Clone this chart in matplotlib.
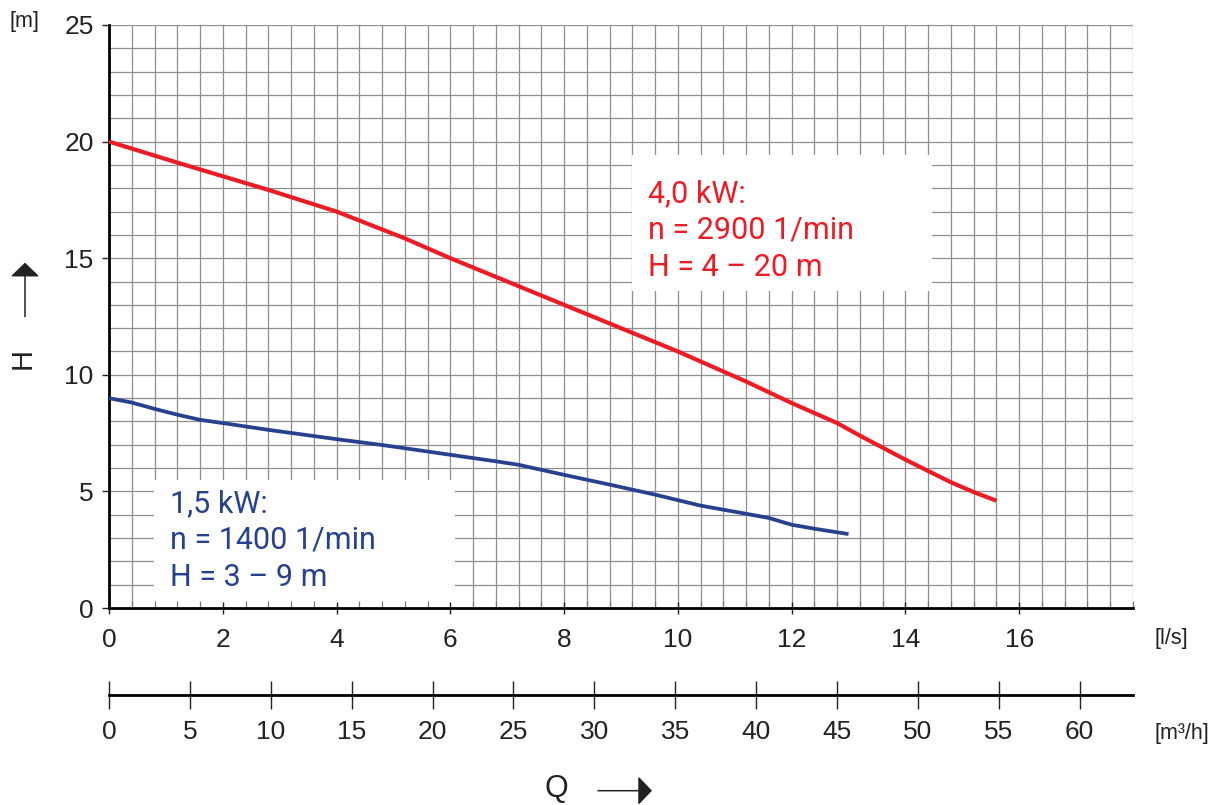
import numpy as np
import matplotlib
matplotlib.use('Agg')
import matplotlib.pyplot as plt
from matplotlib.patches import Rectangle, FancyArrowPatch, ArrowStyle

plt.rcParams['font.family'] = ['Liberation Sans', 'DejaVu Sans']

# pump curves, flow Q in l/s, head H in m
q_red = [0, 1.2, 2.8, 4.0, 5.2, 6.0, 8.0, 10.0, 11.2, 12.0, 12.8, 13.2, 14.0, 14.8, 15.2, 15.6]
h_red = [20.0, 19.1, 17.93, 17.0, 15.85, 15.0, 13.0, 11.0, 9.71, 8.79, 7.93, 7.39, 6.36, 5.39, 4.97, 4.6]

q_blue = [0, 0.4, 0.8, 1.2, 1.6, 2.0, 2.8, 4.0, 4.8, 6.0, 6.8, 7.2, 8.0, 8.8, 9.6,
          10.4, 11.2, 11.6, 12.0, 12.4, 13.0]
h_blue = [9.0, 8.81, 8.54, 8.29, 8.07, 7.93, 7.64, 7.24, 6.99, 6.57, 6.29, 6.14, 5.71, 5.29, 4.86,
          4.39, 4.04, 3.86, 3.57, 3.40, 3.17]

label_red = ['4,0 kW:', 'n = 2900 1/min', 'H = 4 – 20 m']
label_blue = ['1,5 kW:', 'n = 1400 1/min', 'H = 3 – 9 m']

ls_ticks = [0, 2, 4, 6, 8, 10, 12, 14, 16]
m3h_ticks = [0, 5, 10, 15, 20, 25, 30, 35, 40, 45, 50, 55, 60]
h_ticks = [0, 5, 10, 15, 20, 25]

RED = '#ED1C24'
BLUE = '#27408F'
GRID = '#8f8f8f'
INK = '#222222'

W, H = 1219, 805
fig = plt.figure(figsize=(W / 100, H / 100), dpi=100)


def fx(px):
    return px / W


def fy(py):
    return 1 - py / H


# main chart
ax = fig.add_axes([fx(109), fy(608), fx(1133) - fx(109), fy(25) - fy(608)])
ax.set_xlim(0, 18)
ax.set_ylim(0, 25)

# millimetre-paper grid
ax.vlines(np.arange(0.4, 18.01, 0.4), 0, 25, color=GRID, lw=0.9, zorder=0.5)
ax.hlines(np.arange(1, 25.01, 1), 0, 18, color=GRID, lw=0.9, zorder=0.5)

# white boxes behind the labels
ax.add_patch(Rectangle((9.19, 13.59), 14.46 - 9.19, 19.43 - 13.59, fc='white', ec='none', zorder=1))
ax.add_patch(Rectangle((0.79, 0), 6.08 - 0.79, 5.49, fc='white', ec='none', zorder=1))

ax.plot(q_red, h_red, color=RED, lw=3.0, zorder=3, solid_capstyle='butt')
ax.plot(q_blue, h_blue, color=BLUE, lw=2.7, zorder=3, solid_capstyle='butt')

for s in ['top', 'right']:
    ax.spines[s].set_visible(False)
ax.spines['left'].set_linewidth(2.0)
ax.spines['bottom'].set_linewidth(2.0)

ax.set_xticks(ls_ticks)
ax.set_xticks(np.arange(0.4, 18.01, 0.4), minor=True)
ax.set_yticks(h_ticks)
ax.tick_params(axis='x', which='major', direction='inout', length=9, width=1.0,
               labelsize=19, pad=10, colors=INK)
ax.tick_params(axis='x', which='minor', direction='in', length=5, width=0.9, color='#777777')
ax.tick_params(axis='y', which='major', direction='out', length=5, width=1.0,
               labelsize=19, pad=6, colors=INK)
ax.set_facecolor('white')

# labels of the two curves
for i, t in enumerate(label_red):
    fig.text(fx(648), fy(201.7 + i * 36.9), t, color=RED, fontsize=22,
             family=['Roboto', 'DejaVu Sans'], va='baseline', ha='left')
for i, t in enumerate(label_blue):
    fig.text(fx(170), fy(511.7 + i * 37.0), t, color=BLUE, fontsize=22,
             family=['Roboto', 'DejaVu Sans'], va='baseline', ha='left')

# second flow scale in m3/h
ax2 = fig.add_axes([fx(109), fy(695), fx(1133) - fx(109), 0.001])
ax2.set_xlim(0, 63.3)
ax2.set_ylim(0, 1)
ax2.set_yticks([])
for s in ['top', 'right', 'left']:
    ax2.spines[s].set_visible(False)
ax2.spines['bottom'].set_linewidth(2.0)
ax2.patch.set_visible(False)
ax2.set_xticks(m3h_ticks)
ax2.tick_params(axis='x', direction='inout', length=20, width=1.0, labelsize=19,
                pad=8, colors=INK)

# units and axis names
fig.text(fx(24.5), fy(21), '[m]', fontsize=15.5, ha='center', va='center', color=INK)
fig.text(fx(1155), fy(638), '[l/s]', fontsize=15.5, ha='left', va='center', color=INK)
fig.text(fx(1155), fy(733), '[m³/h]', fontsize=15.5, ha='left', va='center', color=INK)
fig.text(fx(556), fy(789), 'Q', fontsize=22, ha='center', va='center', color=INK)
fig.text(fx(22.5), fy(358), 'H', fontsize=21, ha='center', va='center', rotation=90,
         color=INK)

style = ArrowStyle('-|>', head_length=0.43, head_width=0.45)
fig.add_artist(FancyArrowPatch((fx(598), fy(790.7)), (fx(652), fy(790.7)),
                               transform=fig.transFigure, arrowstyle=style,
                               mutation_scale=20, lw=1.1, color=INK,
                               shrinkA=0, shrinkB=0))
fig.add_artist(FancyArrowPatch((fx(25), fy(316.7)), (fx(25), fy(262.7)),
                               transform=fig.transFigure, arrowstyle=style,
                               mutation_scale=20, lw=1.1, color=INK,
                               shrinkA=0, shrinkB=0))

fig.savefig('out.png', dpi=100, facecolor='white')
